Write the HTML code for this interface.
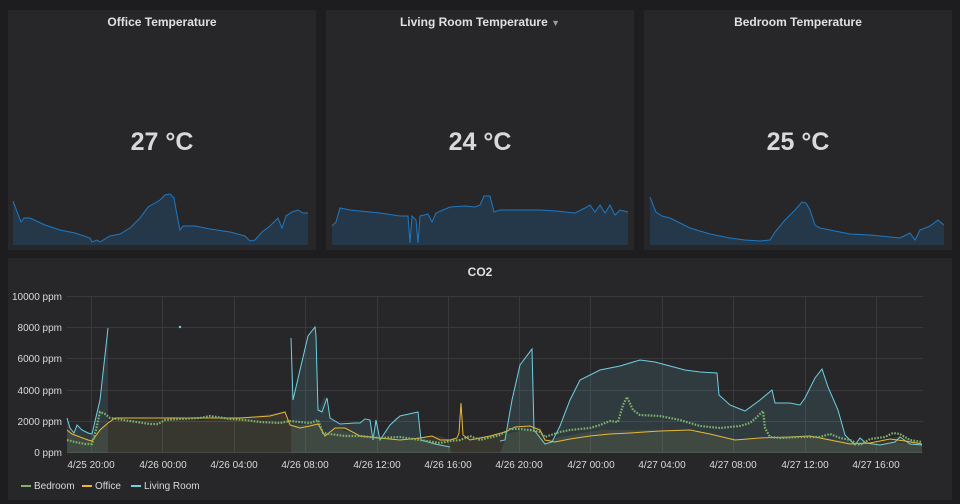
<!DOCTYPE html>
<html><head><meta charset="utf-8"><style>
html,body{margin:0;padding:0;background:#1d1d1f;width:960px;height:504px;overflow:hidden;font-family:"Liberation Sans",sans-serif;}
.p{position:absolute;background:#272729;}
.t{position:absolute;left:0;right:0;text-align:center;color:#e0e0e0;font-size:12px;font-weight:bold;top:5px;}
.v{position:absolute;left:0;right:0;text-align:center;color:#d8d9da;font-size:25px;font-weight:bold;top:118px;}
svg{position:absolute;left:0;top:0}
</style></head><body>
<div class="p" style="left:8px;top:10px;width:308px;height:240px"><div class="t">Office Temperature</div><div class="v">27 °C</div></div>
<div class="p" style="left:326px;top:10px;width:308px;height:240px"><div class="t">Living Room Temperature <span style="font-size:9px;color:#999">▼</span></div><div class="v">24 °C</div></div>
<div class="p" style="left:644px;top:10px;width:308px;height:240px"><div class="t">Bedroom Temperature</div><div class="v">25 °C</div></div>
<div class="p" style="left:8px;top:258px;width:944px;height:242px"><div class="t" style="top:7px">CO2</div></div>
<svg width="960" height="504" viewBox="0 0 960 504">
<g fill="rgba(31,120,193,0.22)" stroke="none">
<path d="M13,245 L13,201 L21,222 L24,218 L30,218 L45,225 L60,230 L75,233 L90,238 L92,242 L97,240 L100,242 L110,236 L120,234 L130,228 L140,218 L148,207 L155,203 L160,200 L165,195 L170,194 L174,198 L177,215 L180,230 L183,226 L195,226 L210,229 L230,232 L245,236 L250,241 L255,240 L262,232 L270,226 L278,218 L282,228 L286,216 L292,212 L298,210 L303,213 L308,213 L308,245 Z"/>
<path d="M332,245 L332,226 L336,222 L340,208 L350,210 L360,211 L380,213 L400,216 L408,216 L410,243 L412,216 L416,220 L418,243 L420,216 L428,214 L432,222 L436,213 L450,207 L465,206 L475,207 L480,205 L484,196 L490,196 L494,212 L500,210 L520,210 L540,210 L556,211 L565,212 L575,213 L585,208 L590,205 L595,212 L600,205 L605,213 L610,205 L615,215 L620,210 L628,212 L628,245 Z"/>
<path d="M650,245 L650,197 L656,212 L662,216 L670,218 L690,228 L710,234 L730,238 L745,240 L760,241 L770,240 L775,232 L785,220 L795,210 L802,202 L806,203 L810,210 L815,225 L820,228 L830,230 L850,234 L870,235 L890,237 L900,238 L910,233 L915,240 L920,230 L930,226 L938,220 L944,225 L944,245 Z"/>
</g>
<g fill="none" stroke="#1f78c1" stroke-width="1">
<polyline points="13,201 21,222 24,218 30,218 45,225 60,230 75,233 90,238 92,242 97,240 100,242 110,236 120,234 130,228 140,218 148,207 155,203 160,200 165,195 170,194 174,198 177,215 180,230 183,226 195,226 210,229 230,232 245,236 250,241 255,240 262,232 270,226 278,218 282,228 286,216 292,212 298,210 303,213 308,213"/>
<polyline points="332,226 336,222 340,208 350,210 360,211 380,213 400,216 408,216 410,243 412,216 416,220 418,243 420,216 428,214 432,222 436,213 450,207 465,206 475,207 480,205 484,196 490,196 494,212 500,210 520,210 540,210 556,211 565,212 575,213 585,208 590,205 595,212 600,205 605,213 610,205 615,215 620,210 628,212"/>
<polyline points="650,197 656,212 662,216 670,218 690,228 710,234 730,238 745,240 760,241 770,240 775,232 785,220 795,210 802,202 806,203 810,210 815,225 820,228 830,230 850,234 870,235 890,237 900,238 910,233 915,240 920,230 930,226 938,220 944,225"/>
</g>
<g stroke="#3a3a3d" stroke-width="1">
<line x1="67" y1="296.5" x2="923" y2="296.5"/><line x1="67" y1="327.5" x2="923" y2="327.5"/><line x1="67" y1="358.5" x2="923" y2="358.5"/><line x1="67" y1="390.5" x2="923" y2="390.5"/><line x1="67" y1="421.5" x2="923" y2="421.5"/><line x1="67" y1="452.5" x2="923" y2="452.5"/>
<line x1="91.5" y1="296" x2="91.5" y2="453"/><line x1="162.5" y1="296" x2="162.5" y2="453"/><line x1="234.5" y1="296" x2="234.5" y2="453"/><line x1="305.5" y1="296" x2="305.5" y2="453"/><line x1="377.5" y1="296" x2="377.5" y2="453"/><line x1="448.5" y1="296" x2="448.5" y2="453"/><line x1="519.5" y1="296" x2="519.5" y2="453"/><line x1="590.5" y1="296" x2="590.5" y2="453"/><line x1="662.5" y1="296" x2="662.5" y2="453"/><line x1="733.5" y1="296" x2="733.5" y2="453"/><line x1="805.5" y1="296" x2="805.5" y2="453"/><line x1="876.5" y1="296" x2="876.5" y2="453"/>
</g>
<g font-size="10" fill="#d8d9da" text-anchor="end">
<text x="62" y="300">10000 ppm</text><text x="62" y="331">8000 ppm</text><text x="62" y="362">6000 ppm</text><text x="62" y="394">4000 ppm</text><text x="62" y="425">2000 ppm</text><text x="62" y="456">0 ppm</text>
</g>
<g font-size="10" fill="#d8d9da" text-anchor="middle">
<text x="91" y="468">4/25 20:00</text><text x="163" y="468">4/26 00:00</text><text x="234" y="468">4/26 04:00</text><text x="305" y="468">4/26 08:00</text><text x="377" y="468">4/26 12:00</text><text x="448" y="468">4/26 16:00</text><text x="519" y="468">4/26 20:00</text><text x="591" y="468">4/27 00:00</text><text x="662" y="468">4/27 04:00</text><text x="733" y="468">4/27 08:00</text><text x="805" y="468">4/27 12:00</text><text x="876" y="468">4/27 16:00</text>
</g>
<path d="M67,453 L67,418 L70,428 L74,433 L77,425 L82,430 L88,433 L92,434 L100,400 L108,328 L108,453 Z M291,453 L291,338 L293,400 L300,370 L308,336 L315,327 L316,336 L318,410 L325,395 L330,418 L340,424 L360,423 L370,420 L373,440 L376,420 L380,440 L395,418 L418,412 L421,440 L450,447 L452,453 Z M500,453 L505,440 L512,400 L520,365 L532,349 L534,430 L545,444 L555,440 L565,410 L580,380 L600,370 L620,366 L640,360 L655,362 L670,366 L685,370 L700,372 L717,373 L719,395 L730,405 L745,411 L760,400 L772,390 L775,403 L790,403 L800,405 L805,398 L815,378 L822,369 L828,387 L838,410 L845,435 L855,445 L860,438 L866,443 L880,445 L895,442 L910,444 L922,445 L922,453 Z" fill="rgba(110,208,224,0.12)" stroke="none"/>
<g fill="none" stroke="#6ed0e0" stroke-width="1">
<polyline points="67,418 70,428 74,433 77,425 82,430 88,433 92,434 100,400 108,328"/>
<polyline points="291,338 293,400 300,370 308,336 315,327 316,336 318,410 322,412 327,398 330,418 340,424 355,423 360,423 365,419 370,420 373,440 376,420 380,440 390,425 400,416 418,412 421,440 435,444 450,447"/>
<polyline points="500,441 505,440 512,400 520,365 532,349 534,430 545,444 552,442 560,426 570,400 580,380 600,370 620,366 640,360 655,362 670,366 685,370 700,372 717,373 719,395 730,405 745,411 760,400 772,390 775,403 790,403 800,405 805,398 815,378 822,369 828,387 838,410 845,435 855,445 860,438 866,443 880,445 895,442 900,437 910,444 922,445"/>
</g>
<circle cx="180" cy="327" r="1.2" fill="#6ed0e0"/>
<path d="M67,453 L67,430 L80,438 L92,440 L100,430 L112,420 L150,419 L200,420 L240,418 L285,412 L292,425 L305,425 L318,420 L325,435 L335,428 L360,436 L400,440 L440,436 L450,440 L500,435 L520,431 L540,427 L545,440 L560,437 L600,430 L650,430 L700,432 L740,440 L780,438 L820,437 L850,442 L880,442 L900,436 L922,443 L922,453 Z" fill="rgba(180,170,90,0.13)"/>
<g fill="none" stroke="#eab839" stroke-width="1">
<polyline points="67,430 72,434 80,437 88,440 92,441 100,430 108,423 115,418 150,418 200,418 240,418 270,416 285,412 290,425 300,428 310,426 318,424 325,436 335,428 345,428 360,436 380,438 400,440 420,438 432,436 440,440 450,440 457,438 459,433 461,403 463,435 470,440 490,436 505,432 515,427 530,426 540,430 545,440 555,442 570,439 590,436 610,434 630,433 660,431 690,430 710,434 735,440 760,438 790,437 810,436 830,440 850,444 870,443 890,439 905,441 922,444"/>
</g>
<g fill="none" stroke="#7eb26d" stroke-width="2.2" stroke-dasharray="1.6 1.4">
<polyline points="67,440 75,442 85,444 92,444 96,430 100,412 105,414 110,418 130,421 150,424 158,424 165,420 180,419 200,418 210,416 230,419 245,420 260,422 280,423 290,421 300,422 310,423 318,420 323,433 330,434 345,436 360,436 380,438 400,437 420,440 440,443 450,441 460,440 470,436 480,440 500,435 510,429 520,429 530,430 540,432 545,437 560,432 570,430 590,428 600,425 610,421 618,422 623,405 627,397 633,410 640,415 660,416 680,420 700,426 720,428 740,426 750,423 757,417 763,411 765,428 770,437 780,438 800,437 820,437 830,434 840,438 850,440 860,445 870,439 885,437 893,433 900,434 910,440 922,442"/>
</g>
<g font-size="10" fill="#d8d9da">
<rect x="21" y="485" width="10" height="2" fill="#7eb26d"/><text x="34" y="489">Bedroom</text>
<rect x="82" y="485" width="10" height="2" fill="#eab839"/><text x="95" y="489">Office</text>
<rect x="131" y="485" width="10" height="2" fill="#6ed0e0"/><text x="144" y="489">Living Room</text>
</g>
</svg>
</body></html>
